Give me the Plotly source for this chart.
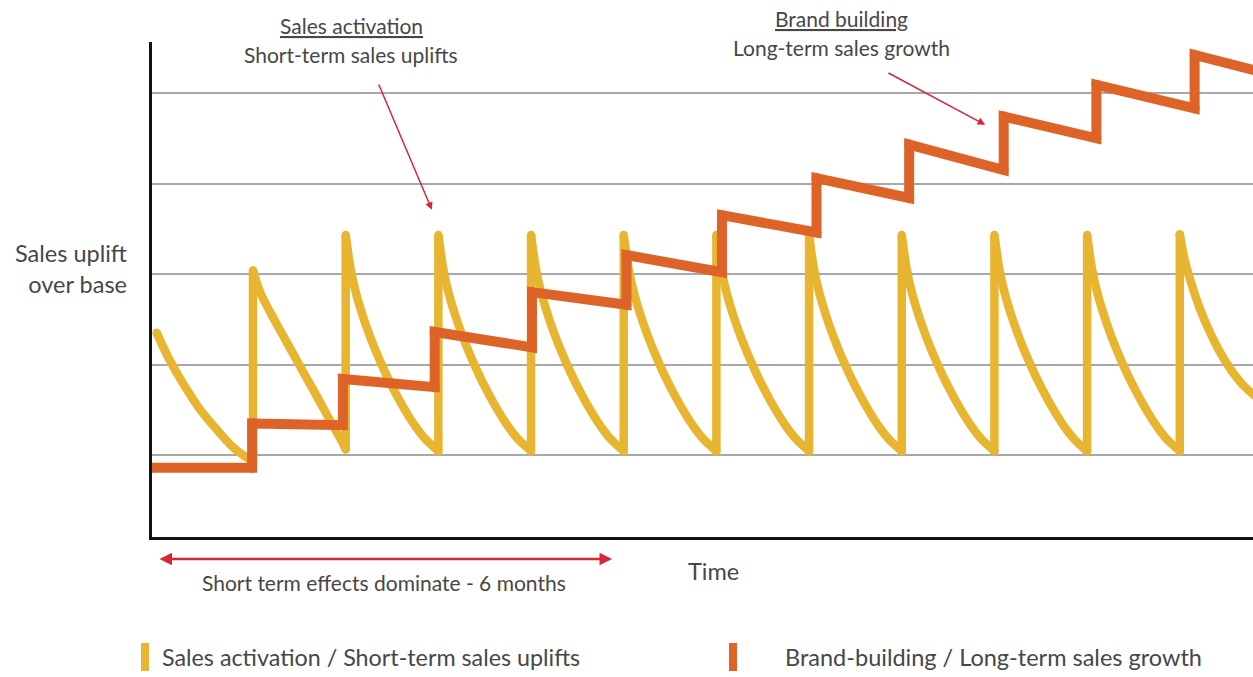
import plotly.graph_objects as go

# ---------------- data ----------------
# x: campaign periods (one burst per period), y: sales uplift in gridline units
act_start_x = [-0.04, 0.10, 0.24, 0.43, 0.61, 0.78, 0.95]
act_start_y = [2.35, 2.05, 1.80, 1.50, 1.28, 1.09, 0.96]

act_peak_x = [1, 2, 3, 4, 5, 6, 7, 8, 9, 10, 11]
act_peak_y = [3.04, 3.43, 3.43, 3.43, 3.43, 3.43, 3.43, 3.43, 3.43, 3.43, 3.44]
act_trough_y = [0.93, 1.06, 1.04, 1.04, 1.04, 1.04, 1.04, 1.04, 1.04, 1.04, 1.04]  # just before each peak

decay_dt = [0.054, 0.108, 0.216, 0.324, 0.432, 0.54, 0.65, 0.757, 0.865, 0.97]
cycle_decay_y = [
    [2.86, 2.73, 2.52, 2.32, 2.12, 1.92, 1.72, 1.52, 1.32, 1.13],
    [3.05, 2.80, 2.44, 2.15, 1.90, 1.68, 1.48, 1.31, 1.17, 1.07],
    [3.05, 2.80, 2.44, 2.15, 1.90, 1.68, 1.48, 1.31, 1.17, 1.07],
    [3.05, 2.80, 2.44, 2.15, 1.90, 1.68, 1.48, 1.31, 1.17, 1.07],
    [3.05, 2.80, 2.44, 2.15, 1.90, 1.68, 1.48, 1.31, 1.17, 1.07],
    [3.05, 2.80, 2.44, 2.15, 1.90, 1.68, 1.48, 1.31, 1.17, 1.07],
    [3.05, 2.80, 2.44, 2.15, 1.90, 1.68, 1.48, 1.31, 1.17, 1.07],
    [3.05, 2.80, 2.44, 2.15, 1.90, 1.68, 1.48, 1.31, 1.17, 1.07],
    [3.05, 2.80, 2.44, 2.15, 1.90, 1.68, 1.48, 1.31, 1.17, 1.07],
    [3.05, 2.80, 2.44, 2.15, 1.90, 1.68, 1.48, 1.31, 1.17, 1.07],
    [3.15, 2.95, 2.62, 2.36, 2.14, 1.96, 1.81, 1.70, 1.61],
]

brand_start = (-0.09, 0.86)
brand_step_x = [0.99, 1.97, 2.96, 4.01, 5.03, 6.06, 7.08, 8.08, 9.10, 10.10, 11.16]
brand_low_y = [0.86, 1.33, 1.75, 2.19, 2.66, 3.02, 3.46, 3.84, 4.15, 4.50, 4.83]
brand_high_y = [1.35, 1.84, 2.36, 2.80, 3.21, 3.65, 4.06, 4.43, 4.74, 5.09, 5.42]
brand_end = (12.0, 5.20)

grid_levels = [1, 2, 3, 4, 5]

# ---------------- assemble series ----------------
# smooth decay curves (each separated by a gap)
dec_x = list(act_start_x) + [act_peak_x[0]]
dec_y = list(act_start_y) + [act_trough_y[0]]
# vertical jumps at each burst
jump_x, jump_y = [], []
# joint points (rounded joins)
jnt_x, jnt_y = [], []
for k, px_k in enumerate(act_peak_x):
    jump_x += [px_k, px_k, None]
    jump_y += [act_trough_y[k], act_peak_y[k], None]
    jnt_x += [px_k, px_k]
    jnt_y += [act_trough_y[k], act_peak_y[k]]
    dec_x += [None, px_k]
    dec_y += [None, act_peak_y[k]]
    for dt, yv in zip(decay_dt, cycle_decay_y[k]):
        dec_x.append(px_k + dt)
        dec_y.append(yv)
    if k + 1 < len(act_peak_x):
        dec_x.append(act_peak_x[k + 1])
        dec_y.append(act_trough_y[k + 1])
jnt_x.append(act_start_x[0])
jnt_y.append(act_start_y[0])

bx, by = [brand_start[0]], [brand_start[1]]
for sx, lo, hi in zip(brand_step_x, brand_low_y, brand_high_y):
    bx += [sx, sx]
    by += [lo, hi]
bx.append(brand_end[0])
by.append(brand_end[1])

YELLOW = "#E8B531"
ORANGE = "#DE6328"
RED = "#D8263A"
TXT = "#474747"
FONT = "Lato"
YW = 8.5
OW = 10

fig = go.Figure()
fig.add_trace(go.Scatter(x=dec_x, y=dec_y, mode="lines", connectgaps=False,
                         line=dict(color=YELLOW, width=YW, shape="spline", smoothing=0.8),
                         hoverinfo="skip"))
fig.add_trace(go.Scatter(x=jump_x, y=jump_y, mode="lines", connectgaps=False,
                         line=dict(color=YELLOW, width=YW), hoverinfo="skip"))
fig.add_trace(go.Scatter(x=jnt_x, y=jnt_y, mode="markers",
                         marker=dict(color=YELLOW, size=YW, line=dict(width=0)),
                         hoverinfo="skip"))
fig.add_trace(go.Scatter(x=bx, y=by, mode="lines",
                         line=dict(color=ORANGE, width=OW), hoverinfo="skip"))
fig.add_trace(go.Scatter(x=bx[:-1], y=by[:-1], mode="markers",
                         marker=dict(color=ORANGE, size=OW, line=dict(width=0)),
                         hoverinfo="skip"))

L, R, T, B = 152, 1253, 42, 537


def pxx(p):
    return (p - L) / (R - L)


def pyy(p):
    return (B - p) / (B - T)


def txt(text, x, y, size, xanchor="center", align="center"):
    fig.add_annotation(text=text, x=pxx(x), y=pyy(y), xref="paper", yref="paper",
                       xanchor=xanchor, yanchor="middle", align=align, showarrow=False,
                       font=dict(family=FONT, size=size, color=TXT))


txt("<u>Sales activation</u>", 351, 25, 21)
txt("Short-term sales uplifts", 351, 55, 21)
txt("<u>Brand building</u>", 841, 19, 21)
txt("Long-term sales growth", 841, 48, 21)
txt("Sales uplift<br>over base", 129, 268, 23.5, xanchor="right", align="right")
txt("Time", 713, 571, 23.5)
txt("Short term effects dominate - 6 months", 384, 582, 21)
txt("Sales activation / Short-term sales uplifts", 160, 657, 23.3, xanchor="left", align="left")
txt("Brand-building / Long-term sales growth", 783, 657, 23.5, xanchor="left", align="left")

# pointer arrows (data coordinates)
fig.add_annotation(x=2.93, y=3.71, ax=2.35, ay=5.11, xref="x", yref="y", axref="x", ayref="y",
                   text="", showarrow=True, arrowhead=2, arrowsize=1, arrowwidth=1.5,
                   arrowcolor=RED, standoff=0)
fig.add_annotation(x=8.90, y=4.65, ax=7.84, ay=5.23, xref="x", yref="y", axref="x", ayref="y",
                   text="", showarrow=True, arrowhead=2, arrowsize=1, arrowwidth=1.5,
                   arrowcolor=RED, standoff=0)

# double-headed "6 months" arrow
fig.add_annotation(x=pxx(612), y=pyy(559), xref="paper", yref="paper",
                   ax=-454, ay=0, axref="pixel", ayref="pixel",
                   text="", showarrow=True, arrowside="end+start",
                   arrowhead=2, startarrowhead=2, arrowsize=1, startarrowsize=1,
                   arrowwidth=2.5, arrowcolor=RED, standoff=0, startstandoff=0)

# legend swatches
fig.add_shape(type="line", xref="paper", yref="paper",
              x0=pxx(145), x1=pxx(145), y0=pyy(643), y1=pyy(671),
              line=dict(color=YELLOW, width=8))
fig.add_shape(type="line", xref="paper", yref="paper",
              x0=pxx(733), x1=pxx(733), y0=pyy(643), y1=pyy(671),
              line=dict(color=ORANGE, width=8))

fig.update_layout(
    width=1253, height=677,
    margin=dict(l=L, r=1253 - R, t=T, b=677 - B, pad=0),
    paper_bgcolor="white", plot_bgcolor="white",
    showlegend=False,
    xaxis=dict(range=[-0.09, 11.79], showgrid=False, zeroline=False,
               showticklabels=False, ticks="", showline=True,
               linecolor="#111111", linewidth=3, fixedrange=True),
    yaxis=dict(range=[0.094, 5.564], tickvals=grid_levels, showgrid=True,
               gridcolor="#A8A8A8", gridwidth=2, zeroline=False,
               showticklabels=False, ticks="", showline=True,
               linecolor="#111111", linewidth=3, fixedrange=True),
)

fig.write_html("out.html", config={"displayModeBar": False})
